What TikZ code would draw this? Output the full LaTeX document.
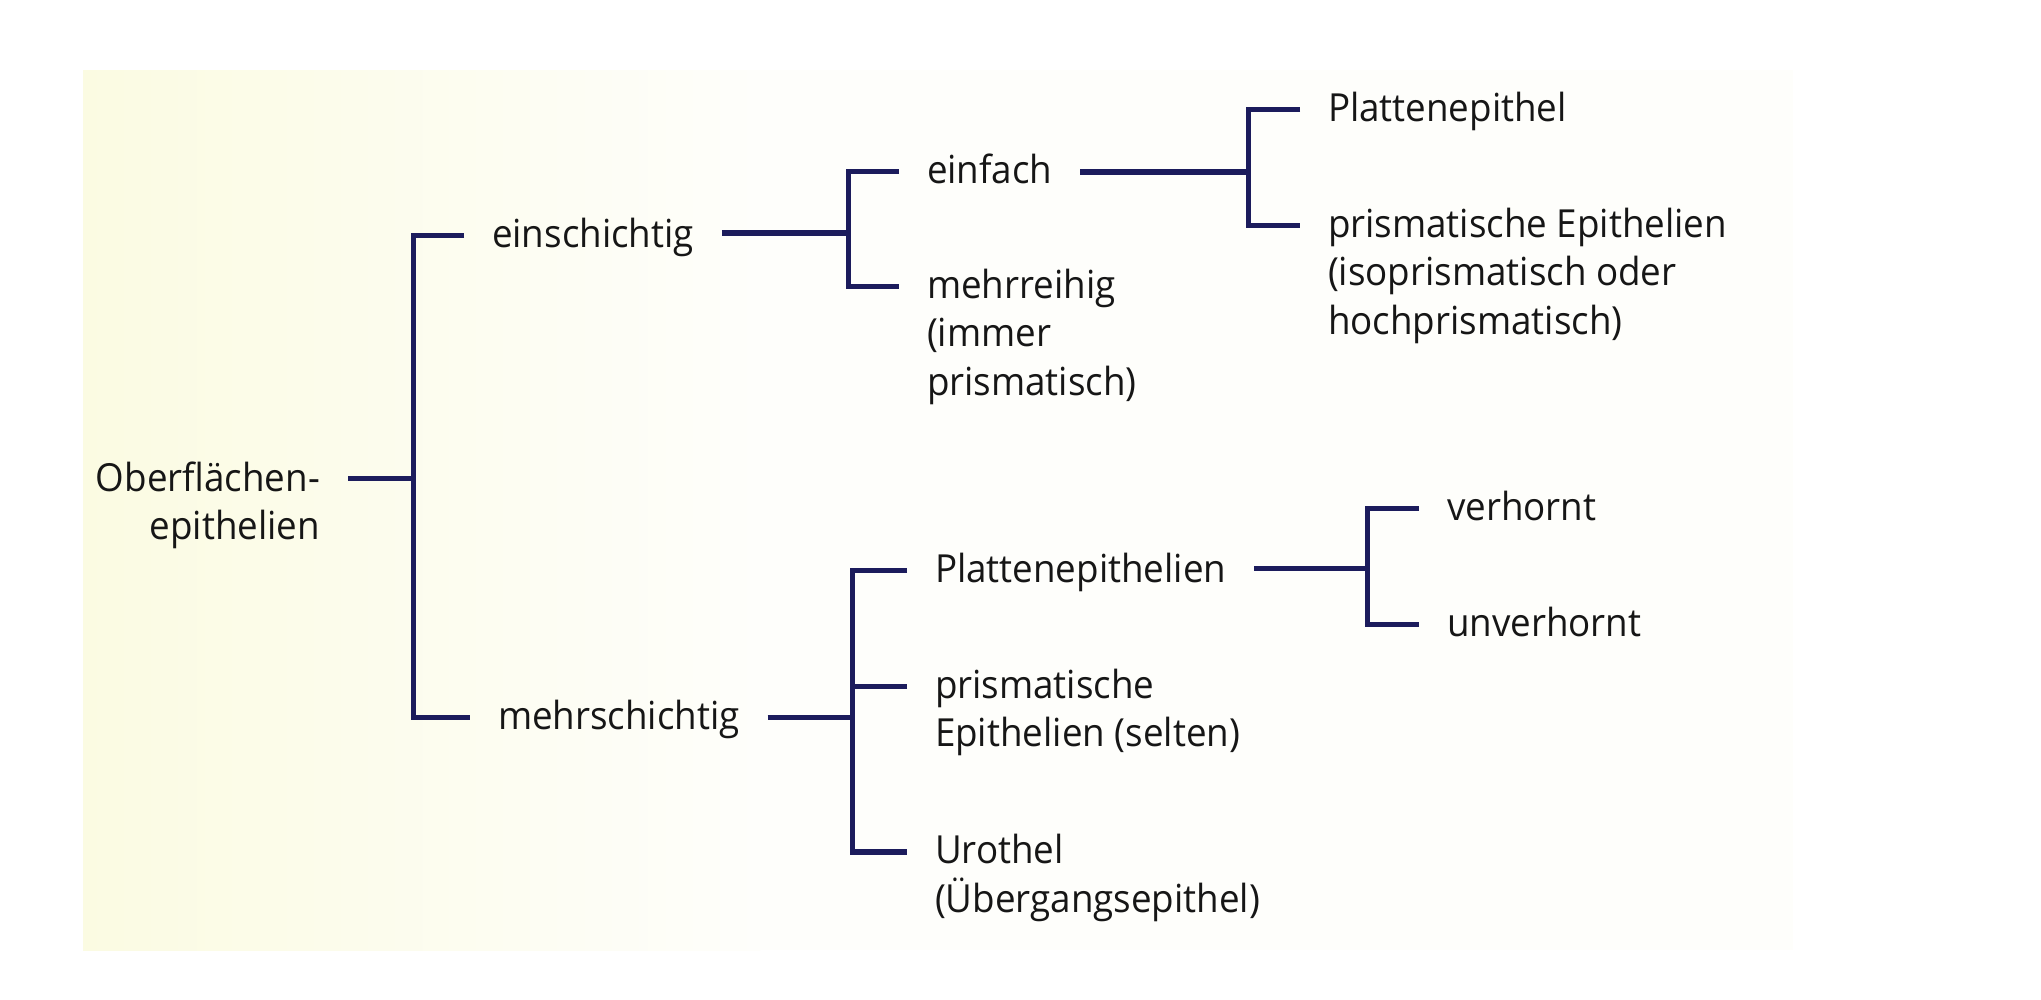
\documentclass[tikz,border=0pt]{standalone}
\usepackage{fontspec}
\setmainfont{Open Sans}[FakeStretch=0.95]
\definecolor{linec}{HTML}{1C1C5C}
\definecolor{txt}{HTML}{161616}
\definecolor{paper}{HTML}{FEFEFB}
\definecolor{cream}{HTML}{FBFBE2}
\newcommand\mlines[1]{\begin{tabular}[t]{@{}l@{}}#1\end{tabular}}
\newcommand\mlinesr[1]{\begin{tabular}[t]{@{}r@{}}#1\end{tabular}}
\begin{document}
\begin{tikzpicture}[x=0.01cm,y=-0.01cm,
  lbl/.style={inner xsep=0.28cm, inner ysep=0pt, outer sep=0pt, text=txt,
              font=\fontsize{11pt}{13.9pt}\selectfont},
  con/.style={draw=linec, line width=0.05cm, line cap=butt, line join=miter}]
\useasboundingbox (0,0) rectangle (2041,1000);
\fill[white] (0,0) rectangle (2041,1000);
\fill[paper] (83,70) rectangle (1793,950);
\shade[left color=cream, right color=paper] (83,70) rectangle (760,950);

% labels
\node[lbl, anchor=base east] (ober) at (348,491) {\mlinesr{Oberflächen-\\epithelien}};
\node[lbl, anchor=base west] (ein)  at (464,247) {einschichtig};
\node[lbl, anchor=base west] (mehr) at (470,729) {mehrschichtig};
\node[lbl, anchor=base west] (einf) at (899,183) {einfach};
\node[lbl, anchor=base west] (reih) at (899,298) {\mlines{mehrreihig\\(immer\\prismatisch)}};
\node[lbl, anchor=base west] (pla)  at (1300,121) {Plattenepithel};
\node[lbl, anchor=base west] (pra)  at (1300,237) {\mlines{prismatische Epithelien\\(isoprismatisch oder\\hochprismatisch)}};
\node[lbl, anchor=base west] (plb)  at (907,582) {Plattenepithelien};
\node[lbl, anchor=base west] (prb)  at (907,698) {\mlines{prismatische\\Epithelien (selten)}};
\node[lbl, anchor=base west] (uro)  at (907,863) {\mlines{Urothel\\(Übergangsepithel)}};
\node[lbl, anchor=base west] (verh) at (1419,520) {verhornt};
\node[lbl, anchor=base west] (unv)  at (1419,636) {unverhornt};

% junctions
\coordinate (j0) at (413,478);
\coordinate (j1) at (848,233);
\coordinate (j2) at (1248,172);
\coordinate (j3) at (852,717);
\coordinate (j4) at (1367,568);

% connectors
\draw[con] (ober.base east |- j0) -- (j0);
\draw[con] ([yshift=0.11cm]ein.base west) -| (j0) |- ([yshift=0.11cm]mehr.base west);

\draw[con] (ein.base east |- j1) -- (j1);
\draw[con] ([yshift=0.11cm]einf.base west) -| (j1) |- ([yshift=0.11cm]reih.base west);

\draw[con] (einf.base east |- j2) -- (j2);
\draw[con] ([yshift=0.11cm]pla.base west) -| (j2) |- ([yshift=0.11cm]pra.base west);

\draw[con] (mehr.base east |- j3) -- (j3);
\draw[con] ([yshift=0.11cm]plb.base west) -| (j3) |- ([yshift=0.11cm]uro.base west);
\draw[con] ([yshift=0.11cm]prb.base west) -| (j3);

\draw[con] (plb.base east |- j4) -- (j4);
\draw[con] ([yshift=0.11cm]verh.base west) -| (j4) |- ([yshift=0.11cm]unv.base west);
\end{tikzpicture}
\end{document}
